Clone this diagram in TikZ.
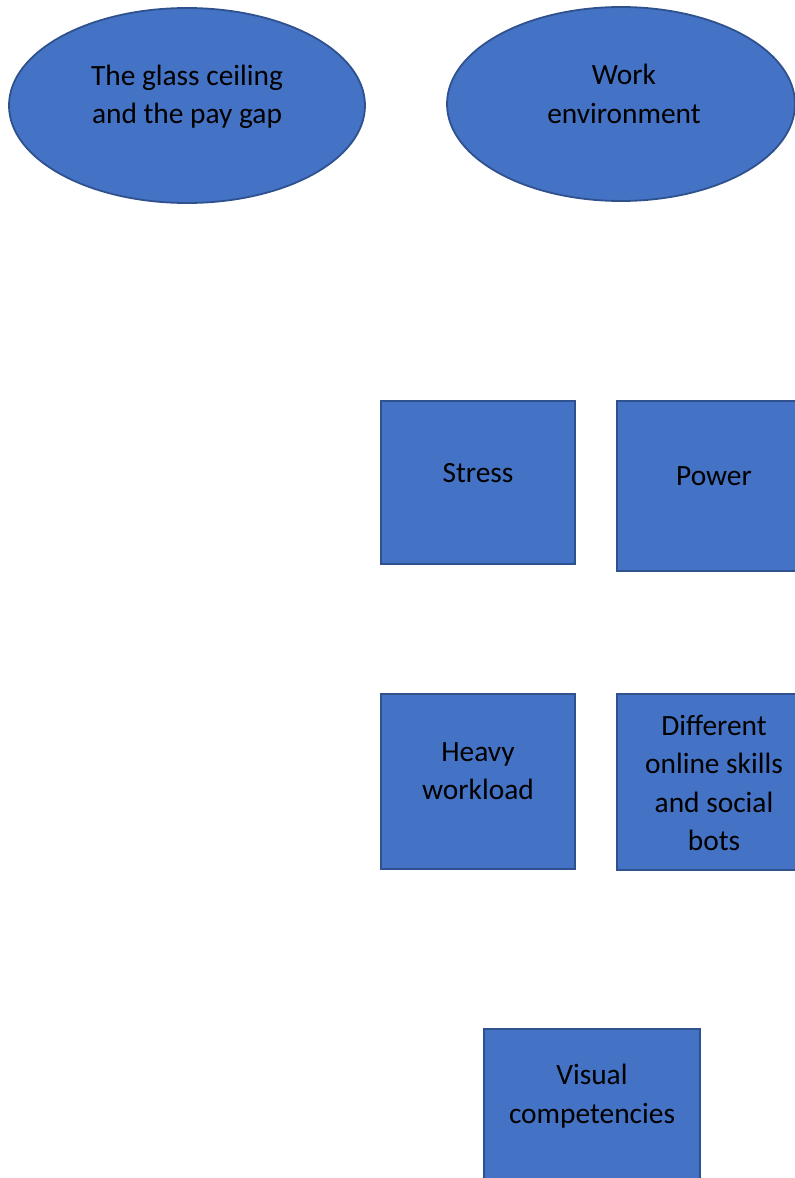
\documentclass[tikz,border=0pt]{standalone}
\usepackage{fontspec}
\setmainfont{Carlito}
\usetikzlibrary{shapes.geometric}
\definecolor{shapefill}{HTML}{4472C4}
\definecolor{shapeline}{HTML}{2F528F}
\begin{document}
\begin{tikzpicture}[x=1pt,y=-1pt,
  oval/.style={ellipse,draw=shapeline,fill=shapefill,line width=1.8pt,inner sep=0pt},
  box/.style={rectangle,draw=shapeline,fill=shapefill,line width=1.8pt,inner sep=0pt},
  lbl/.style={align=center,text=black,inner sep=0pt,font=\fontsize{29.4}{38.5}\selectfont}]
\useasboundingbox (0,0) rectangle (795,1178);
\clip (0,0) rectangle (795,1178);
% top row: ellipses
\node[oval,minimum width=356pt,minimum height=195pt] (glass) at (187,105.5) {};
\node[oval,minimum width=348pt,minimum height=194pt] (work) at (621,104) {};
% middle rows: boxes
\node[box,minimum width=194pt,minimum height=163pt] (stress) at (478,482.5) {};
\node[box,minimum width=194pt,minimum height=170pt] (power) at (714,486) {};
\node[box,minimum width=194pt,minimum height=175pt] (heavy) at (478,781.5) {};
\node[box,minimum width=194pt,minimum height=176pt] (online) at (714,782) {};
% bottom box
\node[box,minimum width=216pt,minimum height=170pt] (visual) at (592,1114) {};
% texts
\node[lbl] (tglass) at (187,97) {The glass ceiling\\and the pay gap};
\node[lbl] (twork) at (624,94) {Work\\environment};
\node[lbl] (tstress) at (478,473) {Stress};
\node[lbl] (tpower) at (714,476) {Power};
\node[lbl] (theavy) at (478,771) {Heavy\\workload};
\node[lbl] (tonline) at (714,783) {Different\\online skills\\and social\\bots};
\node[lbl] (tvisual) at (592,1096) {Visual\\competencies};
\end{tikzpicture}
\end{document}
